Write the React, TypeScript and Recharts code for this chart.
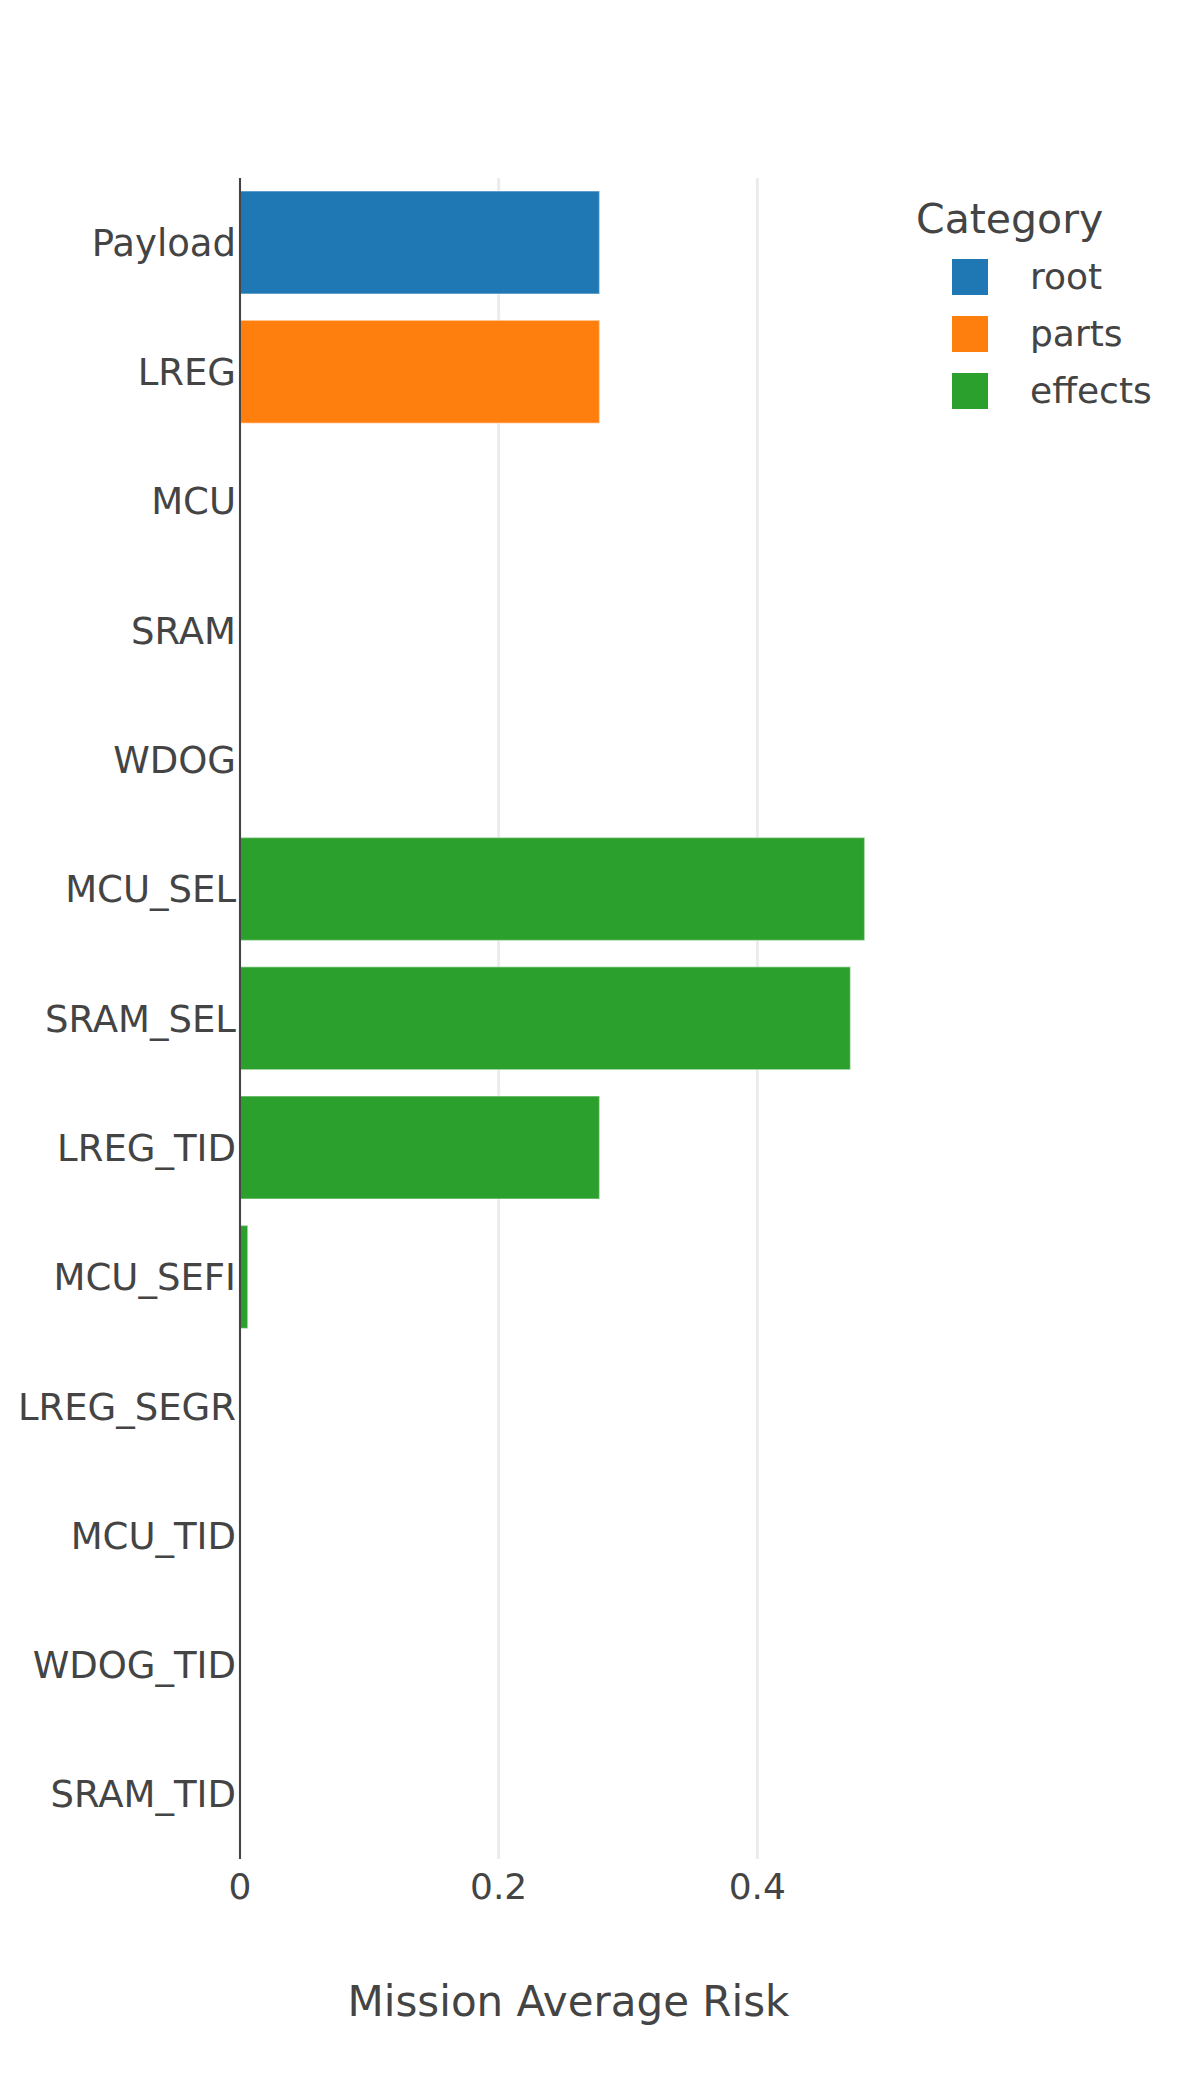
import React from 'react';
import { BarChart, Bar, XAxis, YAxis, CartesianGrid } from 'recharts';

document.body.style.margin = '0';

const categories = [
  'Payload', 'LREG', 'MCU', 'SRAM', 'WDOG', 'MCU_SEL', 'SRAM_SEL',
  'LREG_TID', 'MCU_SEFI', 'LREG_SEGR', 'MCU_TID', 'WDOG_TID', 'SRAM_TID',
];
const riskValues = [0.278, 0.278, 0, 0, 0, 0.483, 0.472, 0.278, 0.006, 0.0008, 0, 0, 0];
const groupOf = [
  'root', 'parts', 'parts', 'parts', 'parts', 'effects', 'effects',
  'effects', 'effects', 'effects', 'effects', 'effects', 'effects',
];
const seriesNames = ['root', 'parts', 'effects'];
const seriesColors = ['#1f77b4', '#ff7f0e', '#2ca02c'];
const xTicks = [0, 0.2, 0.4];

const rows = categories.map((name, i) => {
  const row: Record<string, string | number | null> = { name };
  seriesNames.forEach((s) => {
    row[s] = groupOf[i] === s ? riskValues[i] : null;
  });
  return row;
});

const FONT = '"DejaVu Sans", Verdana, sans-serif';
const TEXT = '#444';

const LegendBox = () => (
  <div style={{ position: 'absolute', left: 916, top: 196, fontFamily: FONT, color: TEXT }}>
    <div style={{ fontSize: 41, lineHeight: '46px', marginBottom: 6 }}>Category</div>
    {seriesNames.map((s, i) => (
      <div key={s} style={{ display: 'flex', alignItems: 'center', height: 57 }}>
        <div style={{ width: 36, height: 36, background: seriesColors[i], marginLeft: 36 }} />
        <span style={{ fontSize: 36, marginLeft: 42 }}>{s}</span>
      </div>
    ))}
  </div>
);

export default function App() {
  return (
    <div style={{ position: 'relative', width: 1200, height: 2100, background: '#fff' }}>
      <BarChart
        width={1200}
        height={2100}
        data={rows}
        layout="vertical"
        margin={{ top: 178, right: 303, left: 0, bottom: 0 }}
        barCategoryGap="10%"
      >
        <CartesianGrid
          horizontal={false}
          verticalValues={xTicks}
          stroke="#ebebeb"
          strokeWidth={3}
        />
        <XAxis
          type="number"
          domain={[0, 0.508]}
          ticks={xTicks}
          tickFormatter={(v: number) => (v === 0 ? '0' : String(v))}
          axisLine={false}
          tickLine={false}
          tickSize={0}
          tickMargin={14}
          height={241}
          tick={{ fontSize: 36, fill: TEXT, fontFamily: FONT }}
          label={{
            value: 'Mission Average Risk',
            position: 'insideBottom',
            offset: 84,
            style: { fontSize: 42, fill: TEXT, fontFamily: FONT },
          }}
        />
        <YAxis
          type="category"
          dataKey="name"
          width={240}
          axisLine={{ stroke: '#444', strokeWidth: 2 }}
          tickLine={false}
          tickSize={0}
          tickMargin={4}
          interval={0}
          tick={{ fontSize: 37, fill: TEXT, fontFamily: FONT }}
        />
        {seriesNames.map((s, i) => (
          <Bar
            key={s}
            dataKey={s}
            stackId="risk"
            fill={seriesColors[i]}
            stroke="#ffffff"
            strokeOpacity={0.4}
            strokeWidth={1.5}
            isAnimationActive={false}
          />
        ))}
      </BarChart>
      <LegendBox />
    </div>
  );
}
